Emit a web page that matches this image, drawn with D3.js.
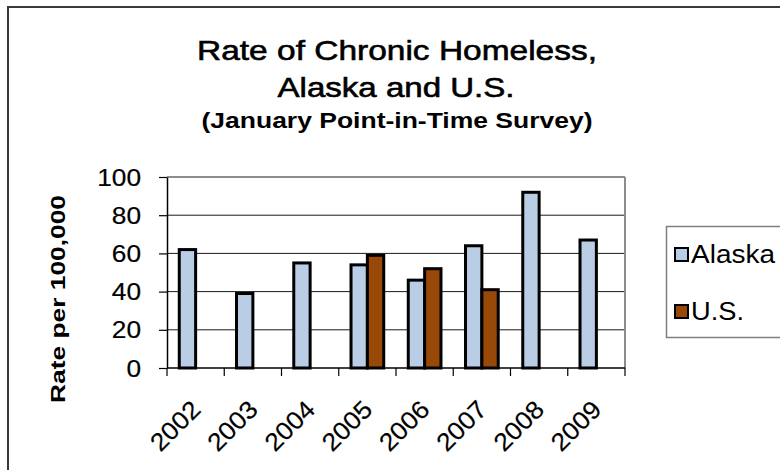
<!DOCTYPE html>
<html><head><meta charset="utf-8">
<script src="https://cdn.jsdelivr.net/npm/d3@7"></script>
<style>
body{margin:0;background:#fff}
svg{display:block}
text{font-family:"Liberation Sans",Arial,sans-serif;fill:#000}
</style></head>
<body><svg id="c" width="780" height="470"></svg>
<script>
const years = ["2002","2003","2004","2005","2006","2007","2008","2009"];
const alaska = [62,39,55,54,46,64,92,67];
const us = [null,null,null,59,52,41,null,null];
const yTicks = [0,20,40,60,80,100];
const seriesNames = ["Alaska","U.S."];
const seriesColors = ["#B9CDE5","#984807"];
const titleLines = ["Rate of Chronic Homeless,","Alaska and U.S."];
const subtitle = "(January Point-in-Time Survey)";
const yLabel = "Rate per 100,000";

const svg = d3.select("#c");
// chart area border
svg.append("rect").attr("x",8).attr("y",7).attr("width",820).attr("height",520)
  .attr("fill","#fff").attr("stroke","#3a3a3a").attr("stroke-width",2);

const m = {left:167,right:625,top:177,bottom:368};
const x = d3.scaleBand().domain(years).range([m.left,m.right]).padding(0);
const gap = 1.5;
const barW = x.bandwidth()/(2+gap);
const off = barW*gap/2;
const y = d3.scaleLinear().domain([0,100]).range([m.bottom,m.top]);

// gridlines
svg.append("g").selectAll("line").data(yTicks.filter(d=>d>0)).join("line")
  .attr("x1",m.left).attr("x2",m.right)
  .attr("y1",d=>y(d)).attr("y2",d=>y(d))
  .attr("stroke","#1a1a1a").attr("stroke-width",1);
// plot right border
svg.append("line").attr("x1",m.right).attr("x2",m.right).attr("y1",m.top).attr("y2",m.bottom)
  .attr("stroke","#8c8c8c").attr("stroke-width",2);

// bars
const series = [alaska, us];
series.forEach((vals,si)=>{
  svg.append("g").selectAll("rect")
    .data(years.map((yr,i)=>({yr,v:vals[i]})).filter(d=>d.v!=null))
    .join("rect")
    .attr("x",d=>x(d.yr)+off+si*barW)
    .attr("width",barW)
    .attr("y",d=>y(d.v))
    .attr("height",d=>y(0)-y(d.v))
    .attr("fill",seriesColors[si])
    .attr("stroke","#000").attr("stroke-width",3);
});

// y axis
const ya = svg.append("g").attr("transform",`translate(${m.left},0)`)
  .call(d3.axisLeft(y).tickValues(yTicks).tickSize(8).tickSizeOuter(0).tickPadding(18).tickFormat(d3.format("d")));
ya.select(".domain").attr("stroke","#000").attr("stroke-width",1.5);
ya.selectAll(".tick line").attr("stroke","#000").attr("stroke-width",1.2);
ya.selectAll(".tick text").attr("font-size",24).attr("font-family",null)
  .attr("textLength",function(d){return String(d).length*14.6;}).attr("lengthAdjust","spacingAndGlyphs")
  .attr("dy","0.34em").attr("stroke","#000").attr("stroke-width",0.2);

// x axis
svg.append("line").attr("x1",m.left).attr("x2",m.right).attr("y1",m.bottom).attr("y2",m.bottom)
  .attr("stroke","#000").attr("stroke-width",1.5);
const bounds = years.map(d=>x(d)).concat([m.right]);
svg.append("g").selectAll("line").data(bounds).join("line")
  .attr("x1",d=>d).attr("x2",d=>d).attr("y1",m.bottom).attr("y2",m.bottom+8)
  .attr("stroke","#000").attr("stroke-width",1.2);
svg.append("g").selectAll("text").data(years).join("text")
  .attr("transform",d=>`translate(${x(d)+x.bandwidth()/2+6.5},411) rotate(-45)`)
  .attr("text-anchor","end").attr("font-size",25)
  .attr("textLength",59).attr("lengthAdjust","spacingAndGlyphs")
  .attr("stroke","#000").attr("stroke-width",0.2)
  .text(d=>d);

// y label
svg.append("text").attr("transform","translate(65,299) rotate(-90)")
  .attr("text-anchor","middle").attr("font-size",20).attr("font-weight","bold")
  .attr("textLength",208).attr("lengthAdjust","spacingAndGlyphs")
  .text(yLabel);

// titles
svg.append("text").attr("x",397).attr("y",60).attr("text-anchor","middle").attr("font-size",28)
  .attr("stroke","#000").attr("stroke-width",0.6)
  .attr("textLength",400).attr("lengthAdjust","spacingAndGlyphs").text(titleLines[0]);
svg.append("text").attr("x",396).attr("y",97).attr("text-anchor","middle").attr("font-size",28)
  .attr("stroke","#000").attr("stroke-width",0.6)
  .attr("textLength",237).attr("lengthAdjust","spacingAndGlyphs").text(titleLines[1]);
svg.append("text").attr("x",397).attr("y",128).attr("text-anchor","middle").attr("font-size",22)
  .attr("font-weight","bold")
  .attr("textLength",391).attr("lengthAdjust","spacingAndGlyphs").text(subtitle);

// legend
svg.append("rect").attr("x",666.5).attr("y",226.5).attr("width",140).attr("height",111)
  .attr("fill","#fff").attr("stroke","#7f7f7f").attr("stroke-width",1.5);
const legW = [84,53];
seriesNames.forEach((n,i)=>{
  const ly = 248 + i*57;
  svg.append("rect").attr("x",675).attr("y",ly).attr("width",13).attr("height",13)
    .attr("fill",seriesColors[i]).attr("stroke","#000").attr("stroke-width",2);
  svg.append("text").attr("x",691).attr("y",ly+15).attr("font-size",25)
    .attr("textLength",legW[i]).attr("lengthAdjust","spacingAndGlyphs").text(n);
});
</script></body></html>
